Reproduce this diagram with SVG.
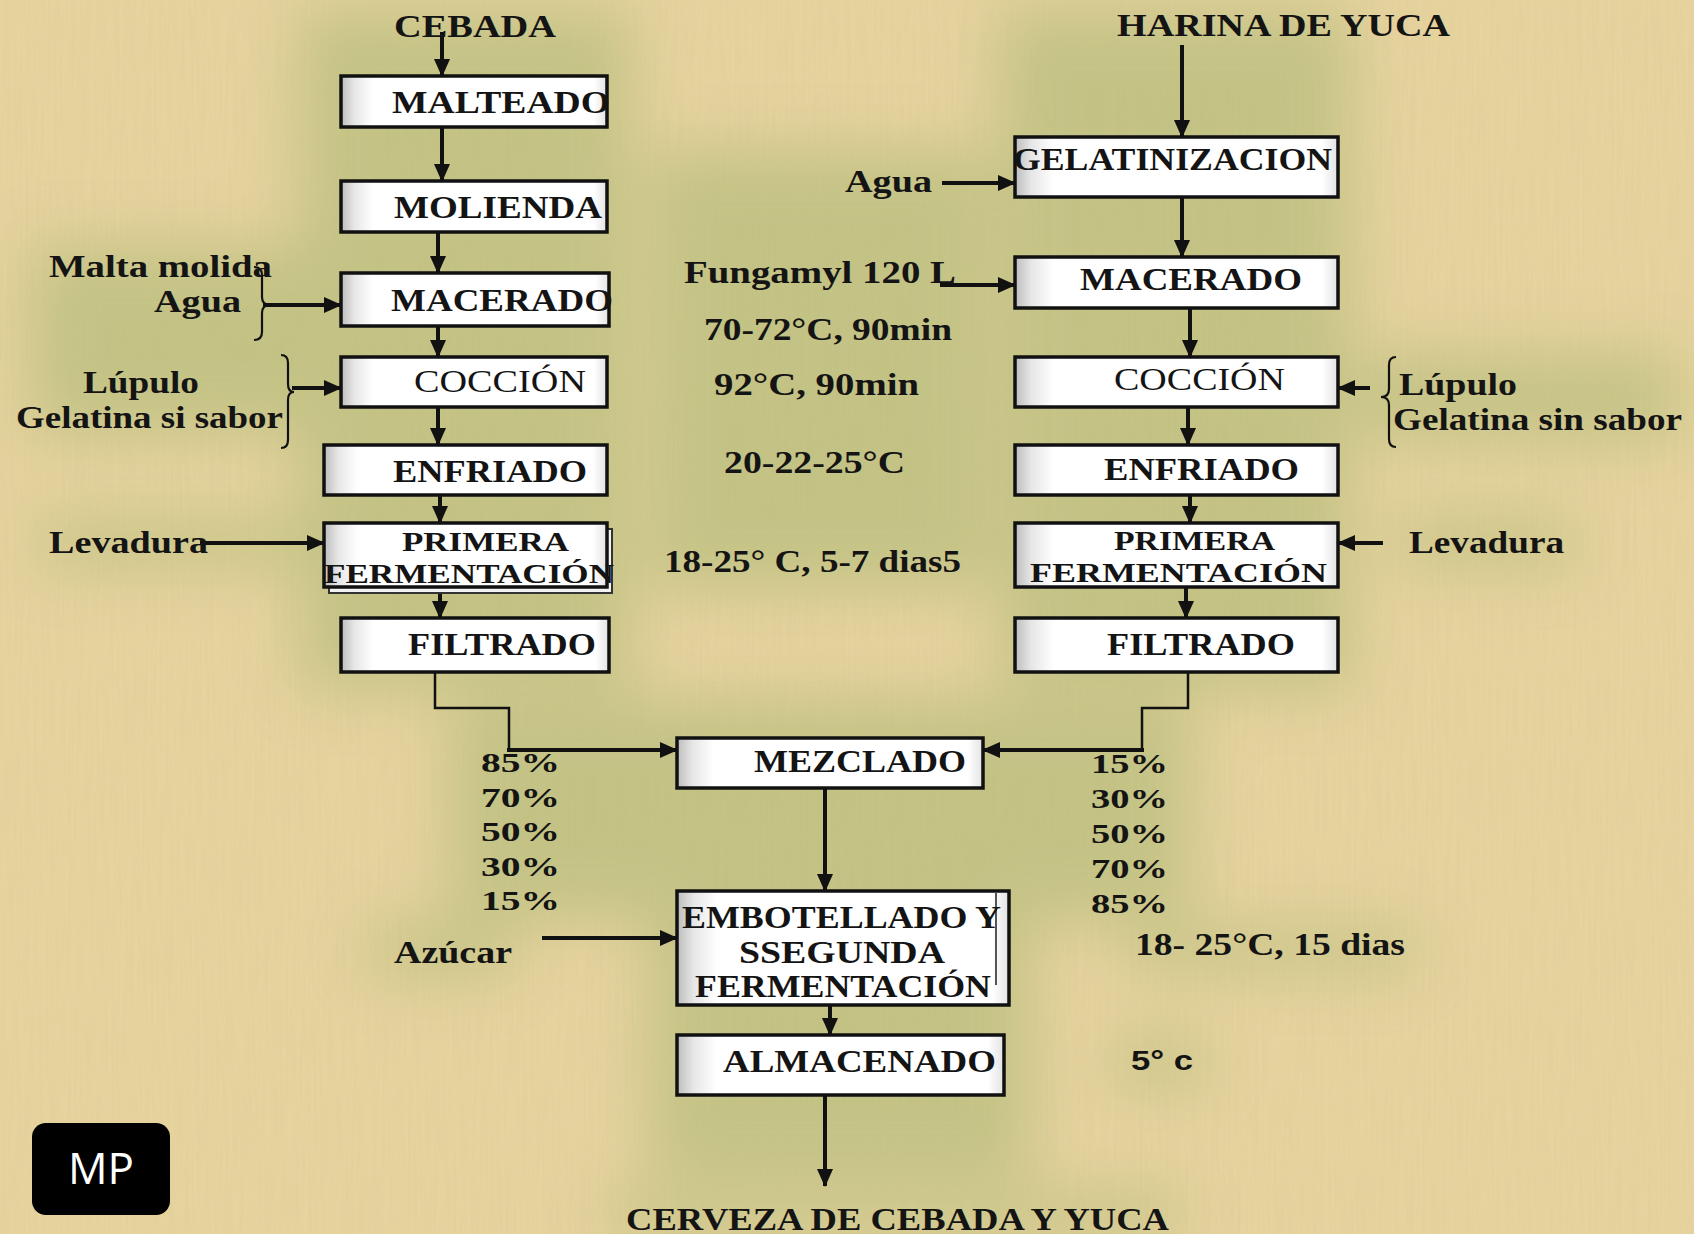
<svg xmlns="http://www.w3.org/2000/svg" width="1694" height="1234" viewBox="0 0 1694 1234">
<defs>
  <style>
    .t{font-family:"Liberation Serif","Times New Roman",serif;font-weight:bold;font-size:31px;fill:#141414;}
    .tm{font-family:"Liberation Serif","Times New Roman",serif;font-weight:bold;font-size:28px;fill:#141414;}
    .tn{font-family:"Liberation Serif","Times New Roman",serif;font-weight:normal;font-size:31px;fill:#141414;}
    .ts{font-family:"Liberation Sans",Arial,sans-serif;font-weight:bold;font-size:28px;fill:#141414;}
    .box{fill:url(#bevel);stroke:#111;stroke-width:3.5;}
    .sh{fill:#f2f2f2;stroke:#333;stroke-width:2;}
    .c{fill:none;stroke:#111;stroke-width:4;}
    .ct{fill:none;stroke:#111;stroke-width:2.5;}
    .br{fill:none;stroke:#111;stroke-width:2.2;}
    .g{fill:#bcbf80;}
  </style>
  <linearGradient id="bevel" x1="0" y1="0" x2="1" y2="0">
    <stop offset="0" stop-color="#bdbdbd"/>
    <stop offset="0.05" stop-color="#e6e6e6"/>
    <stop offset="0.12" stop-color="#ffffff"/>
    <stop offset="0.95" stop-color="#ffffff"/>
    <stop offset="1" stop-color="#e2e2e2"/>
  </linearGradient>
  <marker id="ah" viewBox="0 0 18 18" refX="17" refY="9" markerWidth="18" markerHeight="18" markerUnits="userSpaceOnUse" orient="auto">
    <path d="M0,1 L18,9 L0,17 z" fill="#111"/>
  </marker>
  <filter id="blur" x="-30%" y="-30%" width="160%" height="160%">
    <feGaussianBlur stdDeviation="30"/>
  </filter>
  <filter id="tex" x="0" y="0" width="100%" height="100%">
    <feTurbulence type="fractalNoise" baseFrequency="0.35 0.012" numOctaves="2" seed="4"/>
    <feColorMatrix type="matrix" values="0 0 0 0 0.55  0 0 0 0 0.45  0 0 0 0 0.25  0 0 0 0.35 0"/>
  </filter>
</defs>

<rect width="1694" height="1234" fill="#e8d59f"/>
<rect width="1694" height="1234" filter="url(#tex)" opacity="0.5"/>

<g id="glow" filter="url(#blur)" opacity="0.8">
  <rect class="g" x="300" y="10" width="330" height="680"/>
  <rect class="g" x="30" y="245" width="280" height="190"/>
  <rect class="g" x="40" y="520" width="280" height="45"/>
  <rect class="g" x="650" y="150" width="340" height="440"/>
  <rect class="g" x="1000" y="10" width="350" height="680"/>
  <rect class="g" x="1360" y="355" width="320" height="85"/>
  <rect class="g" x="1395" y="520" width="180" height="45"/>
  <rect class="g" x="450" y="700" width="740" height="220"/>
  <rect class="g" x="370" y="925" width="140" height="50"/>
  <rect class="g" x="650" y="900" width="380" height="280"/>
  <rect class="g" x="1125" y="930" width="290" height="40"/>
  <rect class="g" x="1115" y="1040" width="90" height="45"/>
  <rect class="g" x="610" y="1195" width="570" height="40"/>
</g>

<g id="connectors">
  <line class="c" x1="442" y1="32" x2="442" y2="76" marker-end="url(#ah)"/>
  <line class="c" x1="442" y1="127" x2="442" y2="181" marker-end="url(#ah)"/>
  <line class="c" x1="438" y1="213" x2="438" y2="273" marker-end="url(#ah)"/>
  <line class="c" x1="438" y1="326" x2="438" y2="357" marker-end="url(#ah)"/>
  <line class="c" x1="438" y1="400" x2="438" y2="445" marker-end="url(#ah)"/>
  <line class="c" x1="440" y1="495" x2="440" y2="523" marker-end="url(#ah)"/>
  <line class="c" x1="440" y1="565" x2="440" y2="618" marker-end="url(#ah)"/>
  <polyline class="ct" points="435,672 435,708 509,708 509,750"/>
  <line class="c" x1="507" y1="750" x2="677" y2="750" marker-end="url(#ah)"/>
  <line class="c" x1="263" y1="305" x2="341" y2="305" marker-end="url(#ah)"/>
  <line class="c" x1="292" y1="388" x2="341" y2="388" marker-end="url(#ah)"/>
  <line class="c" x1="200" y1="543" x2="324" y2="543" marker-end="url(#ah)"/>

  <line class="c" x1="1182" y1="45" x2="1182" y2="137" marker-end="url(#ah)"/>
  <line class="c" x1="942" y1="183" x2="1015" y2="183" marker-end="url(#ah)"/>
  <line class="c" x1="1182" y1="198" x2="1182" y2="257" marker-end="url(#ah)"/>
  <line class="c" x1="940" y1="285" x2="1015" y2="285" marker-end="url(#ah)"/>
  <line class="c" x1="1190" y1="308" x2="1190" y2="357" marker-end="url(#ah)"/>
  <line class="c" x1="1370" y1="388" x2="1338" y2="388" marker-end="url(#ah)"/>
  <line class="c" x1="1188" y1="400" x2="1188" y2="445" marker-end="url(#ah)"/>
  <line class="c" x1="1190" y1="495" x2="1190" y2="523" marker-end="url(#ah)"/>
  <line class="c" x1="1383" y1="543" x2="1338" y2="543" marker-end="url(#ah)"/>
  <line class="c" x1="1186" y1="565" x2="1186" y2="618" marker-end="url(#ah)"/>
  <polyline class="ct" points="1188,672 1188,708 1142,708 1142,750"/>
  <line class="c" x1="1144" y1="750" x2="983" y2="750" marker-end="url(#ah)"/>

  <line class="c" x1="825" y1="788" x2="825" y2="891" marker-end="url(#ah)"/>
  <line class="c" x1="542" y1="938" x2="677" y2="938" marker-end="url(#ah)"/>
  <line class="c" x1="830" y1="1005" x2="830" y2="1035" marker-end="url(#ah)"/>
  <line class="c" x1="825" y1="1095" x2="825" y2="1186" marker-end="url(#ah)"/>

  <path class="br" d="M254,267 q8,0 8,8 L262,297 q0,8 8,8 q-8,0 -8,8 L262,332 q0,8 -8,8"/>
  <path class="br" d="M281,355 q7,0 7,8 L288,384 q0,8 6,8 q-6,0 -6,8 L288,440 q0,8 -7,8"/>
  <path class="br" d="M1396,357 q-7,0 -7,8 L1389,389 q0,8 -8,8 q8,0 8,8 L1389,439 q0,8 7,8"/>
</g>

<g id="n-cebada"><text class="t" x="394" y="37" textLength="162" lengthAdjust="spacingAndGlyphs">CEBADA</text></g>
<g id="n-harina"><text class="t" x="1117" y="36" textLength="333" lengthAdjust="spacingAndGlyphs">HARINA DE YUCA</text></g>

<g id="n-malteado"><rect class="box" x="341" y="76" width="266" height="51"/><text class="t" x="392" y="113" textLength="218" lengthAdjust="spacingAndGlyphs">MALTEADO</text></g>
<g id="n-molienda"><rect class="box" x="341" y="181" width="266" height="51"/><text class="t" x="394" y="218" textLength="208" lengthAdjust="spacingAndGlyphs">MOLIENDA</text></g>
<g id="n-macerado-l"><rect class="box" x="341" y="273" width="268" height="53"/><text class="t" x="391" y="311" textLength="222" lengthAdjust="spacingAndGlyphs">MACERADO</text></g>
<g id="n-coccion-l"><rect class="box" x="341" y="357" width="266" height="50"/><text class="tn" x="414" y="392" textLength="172" lengthAdjust="spacingAndGlyphs">COCCIÓN</text></g>
<g id="n-enfriado-l"><rect class="box" x="324" y="445" width="283" height="50"/><text class="t" x="393" y="482" textLength="194" lengthAdjust="spacingAndGlyphs">ENFRIADO</text></g>
<g id="n-primera-l"><rect class="sh" x="329" y="529" width="283" height="64"/><rect class="box" x="324" y="523" width="283" height="64"/><text class="tm" x="402" y="551" textLength="167" lengthAdjust="spacingAndGlyphs">PRIMERA</text><text class="tm" x="324" y="583" textLength="290" lengthAdjust="spacingAndGlyphs">FERMENTACIÓN</text></g>
<g id="n-filtrado-l"><rect class="box" x="341" y="618" width="268" height="54"/><text class="t" x="408" y="655" textLength="188" lengthAdjust="spacingAndGlyphs">FILTRADO</text></g>

<g id="n-gelatinizacion"><rect class="box" x="1015" y="137" width="323" height="60"/><text class="t" x="1013" y="170" textLength="319" lengthAdjust="spacingAndGlyphs">GELATINIZACION</text></g>
<g id="n-macerado-r"><rect class="box" x="1015" y="257" width="323" height="51"/><text class="t" x="1080" y="290" textLength="222" lengthAdjust="spacingAndGlyphs">MACERADO</text></g>
<g id="n-coccion-r"><rect class="box" x="1015" y="357" width="323" height="50"/><text class="tn" x="1114" y="390" textLength="171" lengthAdjust="spacingAndGlyphs">COCCIÓN</text></g>
<g id="n-enfriado-r"><rect class="box" x="1015" y="445" width="323" height="50"/><text class="t" x="1104" y="480" textLength="195" lengthAdjust="spacingAndGlyphs">ENFRIADO</text></g>
<g id="n-primera-r"><rect class="box" x="1015" y="523" width="323" height="64"/><text class="tm" x="1114" y="550" textLength="161" lengthAdjust="spacingAndGlyphs">PRIMERA</text><text class="tm" x="1030" y="582" textLength="297" lengthAdjust="spacingAndGlyphs">FERMENTACIÓN</text></g>
<g id="n-filtrado-r"><rect class="box" x="1015" y="618" width="323" height="54"/><text class="t" x="1107" y="655" textLength="188" lengthAdjust="spacingAndGlyphs">FILTRADO</text></g>

<g id="n-mezclado"><rect class="box" x="677" y="738" width="306" height="50"/><text class="t" x="754" y="772" textLength="212" lengthAdjust="spacingAndGlyphs">MEZCLADO</text></g>
<g id="n-embotellado"><rect class="box" x="677" y="891" width="332" height="114"/><line x1="996" y1="893" x2="996" y2="985" stroke="#555" stroke-width="2"/><text class="t" x="682" y="928" textLength="319" lengthAdjust="spacingAndGlyphs">EMBOTELLADO Y</text><text class="t" x="739" y="963" textLength="206" lengthAdjust="spacingAndGlyphs">SSEGUNDA</text><text class="t" x="695" y="997" textLength="296" lengthAdjust="spacingAndGlyphs">FERMENTACIÓN</text></g>
<g id="n-almacenado"><rect class="box" x="677" y="1035" width="327" height="60"/><text class="t" x="723" y="1072" textLength="273" lengthAdjust="spacingAndGlyphs">ALMACENADO</text></g>
<g id="n-cerveza"><text class="t" x="626" y="1230" textLength="543" lengthAdjust="spacingAndGlyphs">CERVEZA DE CEBADA Y YUCA</text></g>

<g id="labels-left">
  <text class="t" x="49" y="277" textLength="223" lengthAdjust="spacingAndGlyphs">Malta molida</text>
  <text class="t" x="154" y="312" textLength="87" lengthAdjust="spacingAndGlyphs">Agua</text>
  <text class="t" x="83" y="393" textLength="116" lengthAdjust="spacingAndGlyphs">Lúpulo</text>
  <text class="t" x="16" y="428" textLength="267" lengthAdjust="spacingAndGlyphs">Gelatina si sabor</text>
  <text class="t" x="49" y="553" textLength="159" lengthAdjust="spacingAndGlyphs">Levadura</text>
  <text class="t" x="394" y="963" textLength="118" lengthAdjust="spacingAndGlyphs">Azúcar</text>
</g>
<g id="labels-mid">
  <text class="t" x="845" y="192" textLength="87" lengthAdjust="spacingAndGlyphs">Agua</text>
  <text class="t" x="684" y="283" textLength="272" lengthAdjust="spacingAndGlyphs">Fungamyl 120 L</text>
  <text class="t" x="704" y="340" textLength="248" lengthAdjust="spacingAndGlyphs">70-72°C, 90min</text>
  <text class="t" x="714" y="395" textLength="205" lengthAdjust="spacingAndGlyphs">92°C, 90min</text>
  <text class="t" x="724" y="473" textLength="181" lengthAdjust="spacingAndGlyphs">20-22-25°C</text>
  <text class="t" x="664" y="572" textLength="297" lengthAdjust="spacingAndGlyphs">18-25° C, 5-7 dias5</text>
</g>
<g id="labels-right">
  <text class="t" x="1399" y="395" textLength="118" lengthAdjust="spacingAndGlyphs">Lúpulo</text>
  <text class="t" x="1393" y="430" textLength="289" lengthAdjust="spacingAndGlyphs">Gelatina sin sabor</text>
  <text class="t" x="1409" y="553" textLength="155" lengthAdjust="spacingAndGlyphs">Levadura</text>
  <text class="t" x="1135" y="955" textLength="270" lengthAdjust="spacingAndGlyphs">18- 25°C, 15 dias</text>
  <text class="ts" x="1131" y="1070" textLength="62" lengthAdjust="spacingAndGlyphs">5° c</text>
</g>
<g id="percent-left">
  <text class="tm" x="481" y="772" textLength="79" lengthAdjust="spacingAndGlyphs">85%</text>
  <text class="tm" x="481" y="807" textLength="79" lengthAdjust="spacingAndGlyphs">70%</text>
  <text class="tm" x="481" y="841" textLength="79" lengthAdjust="spacingAndGlyphs">50%</text>
  <text class="tm" x="481" y="876" textLength="79" lengthAdjust="spacingAndGlyphs">30%</text>
  <text class="tm" x="481" y="910" textLength="79" lengthAdjust="spacingAndGlyphs">15%</text>
</g>
<g id="percent-right">
  <text class="tm" x="1091" y="773" textLength="77" lengthAdjust="spacingAndGlyphs">15%</text>
  <text class="tm" x="1091" y="808" textLength="77" lengthAdjust="spacingAndGlyphs">30%</text>
  <text class="tm" x="1091" y="843" textLength="77" lengthAdjust="spacingAndGlyphs">50%</text>
  <text class="tm" x="1091" y="878" textLength="77" lengthAdjust="spacingAndGlyphs">70%</text>
  <text class="tm" x="1091" y="913" textLength="77" lengthAdjust="spacingAndGlyphs">85%</text>
</g>

<g id="badge-mp">
  <rect x="32" y="1123" width="138" height="92" rx="14" fill="#000"/>
  <text x="101" y="1184" text-anchor="middle" font-family="'Open Sans','Noto Sans',sans-serif" font-size="44" fill="#fff">MP</text>
</g>
</svg>
